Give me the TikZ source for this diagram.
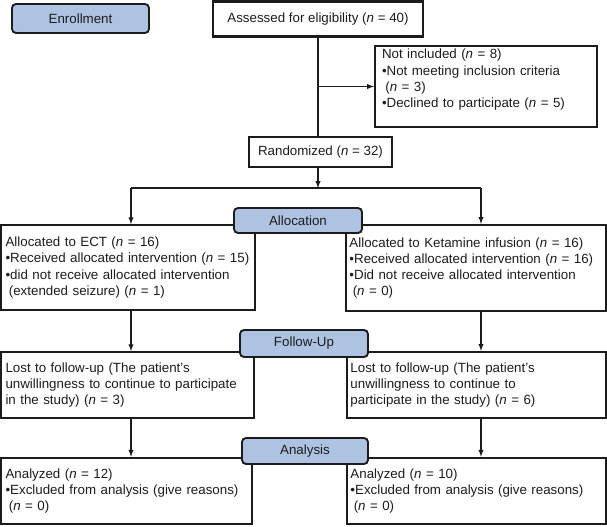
\documentclass[tikz,border=0pt]{standalone}
\usepackage{fontspec}
\setmainfont{Liberation Sans}
\usepackage{tikz}
\usetikzlibrary{arrows}

\definecolor{stageblue}{RGB}{174,194,226}
\definecolor{inkgray}{RGB}{28,28,28}

\begin{document}
\begin{tikzpicture}[x=0.75pt,y=0.75pt,yscale=-1,xscale=1,
  every node/.style={font=\fontsize{10}{12.2}\selectfont, text=inkgray},
  stage/.style={draw=inkgray, fill=stageblue, rounded corners=3pt, line width=1.4pt, inner sep=0pt},
  infobox/.style={draw=inkgray, line width=1.2pt, align=left, inner xsep=3.4pt, inner ysep=0pt},
  flow/.style={draw=inkgray, line width=0.8pt},
  flowarrow/.style={flow, -latex}]
\useasboundingbox (0,0) rectangle (607,526);

%Shape: Rectangle (enrollment)
\node [infobox, align=center, minimum width=157.5pt, minimum height=26.25pt, line width=1.7pt] (assess) at (318,19) {Assessed for eligibility (\textit{n} = 40)};
\node [infobox, text width=156pt, inner xsep=5.25pt, minimum height=60.75pt, line width=1.4pt] (notinc) at (486,86.5) {Not included (\textit{n} = 8)\\
  •Not meeting inclusion criteria\\
  \hspace*{0.25em}(\textit{n} = 3)\\
  •Declined to participate (\textit{n} = 5)\\
  \mbox{}};
\node [infobox, align=center, minimum width=107.25pt, minimum height=22.5pt] (rand) at (320.5,152) {Randomized (\textit{n} = 32)};

%Shape: Rectangle (allocation)
\node [infobox, text width=183.7pt, minimum height=63.75pt] (ecta) at (128,267.5) {Allocated to ECT (\textit{n} = 16)\\
  •Received allocated intervention (\textit{n} = 15)\\
  •did not receive allocated intervention\\
  \hspace*{0.25em}(extended seizure) (\textit{n} = 1)};
\node [infobox, text width=189.8pt, inner xsep=2.6pt, minimum height=64.5pt, line width=1.6pt] (keta) at (476,268) {Allocated to Ketamine infusion (\textit{n} = 16)\\
  •Received allocated intervention (\textit{n} = 16)\\
  •Did not receive allocated intervention\\
  \hspace*{0.25em}(\textit{n} = 0)};

%Shape: Rectangle (follow-up)
\node [infobox, text width=182.95pt, minimum height=49.5pt] (lostL) at (127.5,385) {Lost to follow-up (The patient's\\
  unwillingness to continue to participate\\
  in the study) (\textit{n} = 3)};
\node [infobox, text width=189.05pt, inner xsep=2.6pt, minimum height=49.5pt, line width=1.6pt] (lostR) at (476.5,385) {Lost to follow-up (The patient's\\
  unwillingness to continue to\\
  participate in the study) (\textit{n} = 6)};

%Shape: Rectangle (analysis)
\node [infobox, text width=181.45pt, minimum height=49.5pt, line width=1.9pt] (anaL) at (126.5,491) {Analyzed (\textit{n} = 12)\\
  •Excluded from analysis (give reasons)\\
  \hspace*{0.25em}(\textit{n} = 0)};
\node [infobox, text width=189.05pt, inner xsep=2.6pt, minimum height=49.5pt, line width=1.9pt] (anaR) at (476.5,491) {Analyzed (\textit{n} = 10)\\
  •Excluded from analysis (give reasons)\\
  \hspace*{0.25em}(\textit{n} = 0)};

%Straight Lines
\coordinate (branch) at (assess.south |- notinc.west);
\coordinate (split) at (318,188);
\coordinate (splitL) at (131,188);
\coordinate (splitR) at (481,188);
\draw [flow] (assess.south) -- (assess.south |- rand.north);
\draw [flowarrow] (branch) -- (notinc.west);
\draw [flowarrow] (assess.south |- rand.south) -- (split);
\draw [flow] (splitL) -- (splitR);
\draw [flowarrow] (splitL) -- (splitL |- ecta.north);
\draw [flowarrow] (splitR) -- (splitR |- keta.north);
\draw [flowarrow] (splitL |- ecta.south) -- (splitL |- lostL.north);
\draw [flowarrow] (splitR |- keta.south) -- (splitR |- lostR.north);
\draw [flowarrow] (splitL |- lostL.south) -- (splitL |- anaL.north);
\draw [flowarrow] (splitR |- lostR.south) -- (splitR |- anaR.north);

% Text Node (stage labels)
\node [stage, minimum width=102.75pt, minimum height=21.75pt] (enroll) at (80.5,18.5) {Enrollment};
\node [stage, minimum width=96pt, minimum height=18.75pt] (alloc) at (298,220.5) {Allocation};
\node [stage, minimum width=96pt, minimum height=20.25pt] (follow) at (304,343.5) {Follow-Up};
\node [stage, minimum width=94.5pt, minimum height=19.5pt] (analysis) at (305,451) {Analysis};

\end{tikzpicture}
\end{document}
